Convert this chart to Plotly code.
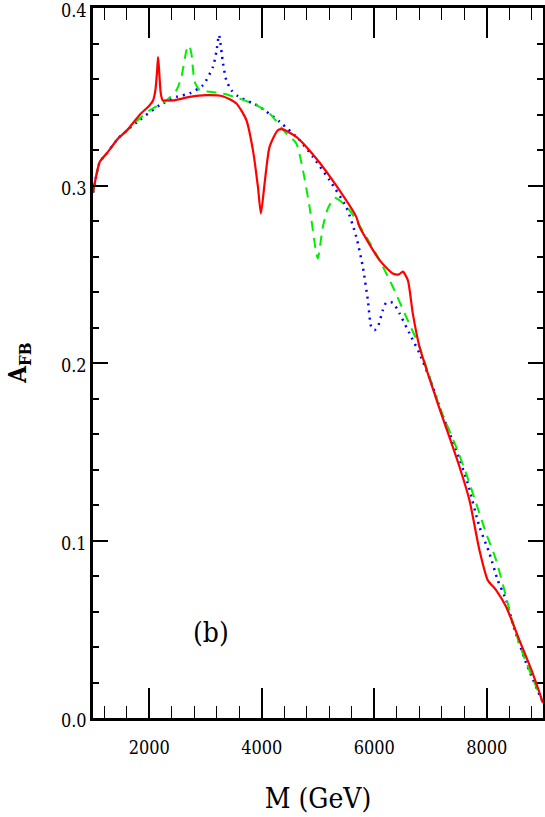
import plotly.graph_objects as go

# Red (solid)
red_x = [1000, 1121, 1240, 1446, 1600, 1832, 2000, 2067, 2110, 2140, 2157, 2175, 2205, 2240, 2275,
         2422, 2719, 3015, 3305, 3549, 3726, 3843, 3932, 3985, 4051, 4140, 4288, 4376, 4614,
         4969, 5325, 5680, 5738, 6094, 6330, 6440, 6508, 6597, 6685, 6804, 7100, 7515, 7692,
         7870, 8017, 8166, 8344, 8580, 8817, 9000]
red_y = [0.296, 0.3134, 0.318, 0.3266, 0.331, 0.340, 0.345, 0.348, 0.354, 0.365, 0.3725, 0.365, 0.352, 0.348, 0.348,
         0.348, 0.350, 0.351, 0.3504, 0.3463, 0.337, 0.320, 0.2993, 0.2843, 0.3013, 0.322, 0.3313, 0.3317, 0.3275,
         0.3153, 0.300, 0.2824, 0.2768, 0.258, 0.2505, 0.2500, 0.2515, 0.2468, 0.228, 0.2092, 0.180, 0.1416, 0.1228,
         0.0946, 0.0777, 0.0721, 0.0627, 0.0439, 0.0252, 0.0085]

# Green (dashed)
green_x = [1000, 1121, 1240, 1446, 1600, 1832, 2009, 2305, 2483, 2572, 2660, 2707, 2749, 2808, 2897,
           3075, 3311, 3607, 3904, 4140, 4437, 4614, 4732, 4850, 4969, 4998, 5087, 5176, 5294,
           5413, 5561, 5857, 6094, 6330, 6567, 6804, 7100, 7219, 7456, 7633, 7811, 7989, 8166,
           8344, 8433, 8639, 9000]
green_y = [0.296, 0.3134, 0.318, 0.3266, 0.331, 0.338, 0.3425, 0.348, 0.3538, 0.3613, 0.376, 0.379, 0.3745, 0.3585, 0.3538,
           0.3529, 0.352, 0.349, 0.3454, 0.3406, 0.3294, 0.3238, 0.3087, 0.288, 0.262, 0.259, 0.2768, 0.2872, 0.2931,
           0.2909, 0.2862, 0.2712, 0.258, 0.243, 0.2261, 0.2092, 0.181, 0.1707, 0.1528, 0.1378, 0.121, 0.104, 0.089,
           0.0683, 0.057, 0.0364, 0.0085]

# Blue (dotted)
blue_x = [1000, 1121, 1240, 1446, 1600, 1831, 2186, 2483, 2719, 2956, 3133, 3193, 3240, 3311, 3370,
          3460, 3577, 3843, 3962, 4318, 4673, 4910, 5206, 5502, 5680, 5797, 5886, 5946, 6005,
          6064, 6153, 6212, 6330, 6449, 6627, 6804, 7041, 7189, 7456, 7662, 7870, 8048, 8195,
          8344, 8462, 8700, 9000]
blue_y = [0.296, 0.3134, 0.318, 0.3266, 0.331, 0.337, 0.3454, 0.350, 0.352, 0.3566, 0.367, 0.3754, 0.3848, 0.369, 0.3594,
          0.3538, 0.3504, 0.3463, 0.3444, 0.336, 0.3256, 0.3162, 0.303, 0.288, 0.2712, 0.2542, 0.2355, 0.2205, 0.2186,
          0.2205, 0.2299, 0.234, 0.234, 0.228, 0.2167, 0.2055, 0.1867, 0.1726, 0.151, 0.1322, 0.1078, 0.0928, 0.0777,
          0.0665, 0.0533, 0.031, 0.0085]

x_ticks = [2000, 4000, 6000, 8000]
x_tick_labels = ["2000", "4000", "6000", "8000"]
y_ticks = [0.0, 0.1, 0.2, 0.3, 0.4]
y_tick_labels = ["0.0", "0.1", "0.2", "0.3", "0.4"]

font_fam = "DejaVu Serif Condensed, DejaVu Serif, serif"

fig = go.Figure()
fig.add_trace(go.Scatter(x=blue_x, y=blue_y, mode="lines",
                         line=dict(color="#0000ff", width=2.5, dash="2px,5px", shape="spline", smoothing=0.6)))
fig.add_trace(go.Scatter(x=green_x, y=green_y, mode="lines",
                         line=dict(color="#00ee00", width=2, dash="10px,7px", shape="spline", smoothing=0.6)))
fig.add_trace(go.Scatter(x=red_x, y=red_y, mode="lines",
                         line=dict(color="#ff0000", width=2.2, shape="spline", smoothing=0.6)))

fig.update_layout(
    width=545, height=817,
    margin=dict(l=93, r=2, t=8, b=99, autoexpand=False),
    paper_bgcolor="white", plot_bgcolor="white",
    showlegend=False,
    font=dict(family=font_fam, color="black"),
    xaxis=dict(range=[1000, 9000], tickvals=x_ticks, ticktext=x_tick_labels, automargin=False,
               ticks="inside", ticklen=30, tickwidth=1.5, tickcolor="black", ticklabelstandoff=12,
               minor=dict(dtick=400, tick0=0, ticks="inside", ticklen=12, tickwidth=1.2, tickcolor="black"),
               showline=True, linewidth=2.5, linecolor="black", mirror="allticks",
               showgrid=False, zeroline=False,
               tickfont=dict(size=18, family=font_fam),
               title=dict(text="M (GeV)", font=dict(size=28, family=font_fam), standoff=32)),
    yaxis=dict(range=[0, 0.4001], tickvals=y_ticks, ticktext=y_tick_labels, automargin=False,
               ticks="inside", ticklen=15, tickwidth=2, tickcolor="black", ticklabeloverflow="allow",
               ticklabelshift=3,
               minor=dict(dtick=0.02, tick0=0, ticks="inside", ticklen=6, tickwidth=1.5, tickcolor="black"),
               showline=True, linewidth=2.5, linecolor="black", mirror="allticks",
               showgrid=False, zeroline=False,
               tickfont=dict(size=18, family=font_fam)),
)

fig.add_annotation(text="<b>A<sub>FB</sub></b>", xref="paper", yref="paper",
                   x=-0.165, y=0.5, xanchor="center", yanchor="middle", textangle=-90,
                   showarrow=False, font=dict(size=24, family=font_fam))
fig.add_annotation(text="(b)", xref="x", yref="y", x=3090, y=0.048,
                   showarrow=False, font=dict(size=28, family=font_fam))

fig.write_html("out.html", config={"displayModeBar": False},
               post_script="document.body.style.margin='0px';")
